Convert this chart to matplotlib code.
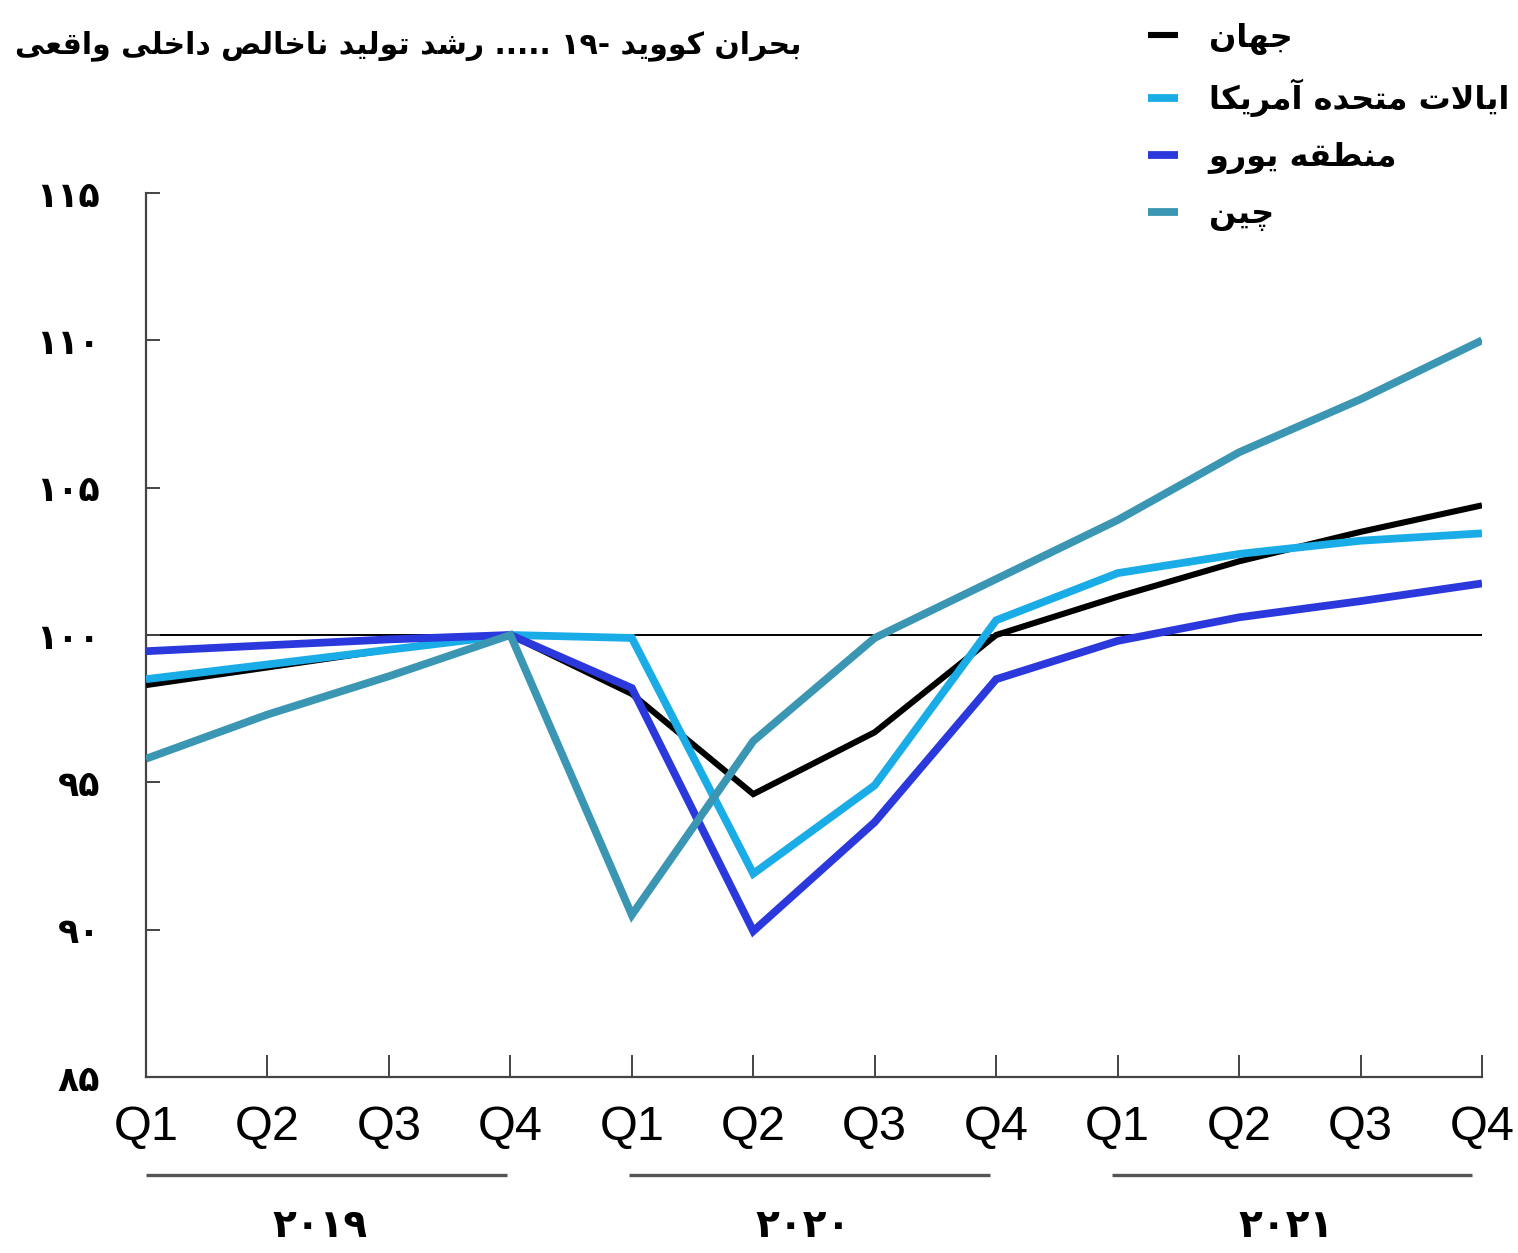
import matplotlib
matplotlib.use('Agg')
import matplotlib.pyplot as plt
from matplotlib import font_manager
from matplotlib.font_manager import FontProperties
from matplotlib.ft2font import FT2Font
from matplotlib.transforms import blended_transform_factory

# ---------------- data ----------------
quarters = ['Q1', 'Q2', 'Q3', 'Q4', 'Q1', 'Q2', 'Q3', 'Q4', 'Q1', 'Q2', 'Q3', 'Q4']
years = ['۲۰۱۹', '۲۰۲۰', '۲۰۲۱']
world = [98.3, 98.9, 99.5, 100.0, 98.0, 94.6, 96.7, 100.0, 101.3, 102.5, 103.5, 104.4]
usa = [98.5, 99.0, 99.5, 100.0, 99.9, 91.9, 94.9, 100.5, 102.1, 102.75, 103.2, 103.45]
euro = [99.45, 99.65, 99.85, 100.0, 98.2, 89.95, 93.65, 98.5, 99.8, 100.6, 101.15, 101.75]
china = [95.8, 97.3, 98.6, 100.0, 90.5, 96.4, 99.9, 101.9, 103.9, 106.2, 108.0, 110.0]
yticks = [85, 90, 95, 100, 105, 110, 115]
names = ['جهان', 'ایالات متحده آمریکا', 'منطقه یورو', 'چین']
colors = ['#000000', '#1aace6', '#2b38dc', '#3a96b2']
title_words = ['بحران', 'کووید', '-۱۹', '.....', 'رشد', 'تولید', 'ناخالص', 'داخلی', 'واقعی']

# ---------------- minimal Arabic/Persian shaping ----------------
FORMS = {
    'ا': ('\uFE8D', '\uFE8E', None, None),
    'آ': ('\uFE81', '\uFE82', None, None),
    'ب': ('\uFE8F', '\uFE90', '\uFE91', '\uFE92'),
    'ت': ('\uFE95', '\uFE96', '\uFE97', '\uFE98'),
    'ج': ('\uFE9D', '\uFE9E', '\uFE9F', '\uFEA0'),
    'ح': ('\uFEA1', '\uFEA2', '\uFEA3', '\uFEA4'),
    'خ': ('\uFEA5', '\uFEA6', '\uFEA7', '\uFEA8'),
    'د': ('\uFEA9', '\uFEAA', None, None),
    'ر': ('\uFEAD', '\uFEAE', None, None),
    'ش': ('\uFEB5', '\uFEB6', '\uFEB7', '\uFEB8'),
    'ص': ('\uFEB9', '\uFEBA', '\uFEBB', '\uFEBC'),
    'ط': ('\uFEC1', '\uFEC2', '\uFEC3', '\uFEC4'),
    'ع': ('\uFEC9', '\uFECA', '\uFECB', '\uFECC'),
    'ق': ('\uFED5', '\uFED6', '\uFED7', '\uFED8'),
    'ل': ('\uFEDD', '\uFEDE', '\uFEDF', '\uFEE0'),
    'م': ('\uFEE1', '\uFEE2', '\uFEE3', '\uFEE4'),
    'ن': ('\uFEE5', '\uFEE6', '\uFEE7', '\uFEE8'),
    'ه': ('\uFEE9', '\uFEEA', '\uFEEB', '\uFEEC'),
    'و': ('\uFEED', '\uFEEE', None, None),
    'ی': ('\uFBFC', '\uFBFD', '\uFBFE', '\uFBFF'),
    'ک': ('\uFB8E', '\uFB8F', '\uFB90', '\uFB91'),
    'چ': ('\uFB7A', '\uFB7B', '\uFB7C', '\uFB7D'),
}
RIGHT_ONLY = set('اآدذرزژو')
LAM_ALEF = {'ا': ('\uFEFB', '\uFEFC'), 'آ': ('\uFEF5', '\uFEF6')}
FALLBACK = {
    '\uFBFC': '\uFEEF', '\uFBFD': '\uFEF0', '\uFBFE': '\uFEF3', '\uFBFF': '\uFEF4',
    '\uFB8E': '\uFED9', '\uFB8F': '\uFEDA', '\uFB90': '\uFEDB', '\uFB91': '\uFEDC',
    '\uFB7A': '\uFE9D', '\uFB7B': '\uFE9E', '\uFB7C': '\uFE9F', '\uFB7D': '\uFEA0',
}
AR_FONT = 'DejaVu Sans'
try:
    _ft = FT2Font(font_manager.findfont(FontProperties(family=AR_FONT, weight='bold')))
    def _has(c):
        return _ft.get_char_index(ord(c)) != 0
except Exception:
    def _has(c):
        return True


def _joins_next(c):
    return c in FORMS and c not in RIGHT_ONLY


def shape_word(w):
    if not any(c in FORMS for c in w):
        return w
    ch = list(w)
    n = len(ch)
    out = []
    i = 0
    while i < n:
        c = ch[i]
        if c not in FORMS:
            out.append(c)
            i += 1
            continue
        prev = ch[i - 1] if i > 0 else None
        cp = prev is not None and _joins_next(prev)
        if c == 'ل' and i + 1 < n and ch[i + 1] in LAM_ALEF:
            lig = LAM_ALEF[ch[i + 1]]
            out.append(lig[1] if cp else lig[0])
            i += 2
            continue
        nxt = ch[i + 1] if i + 1 < n else None
        cn = nxt is not None and _joins_next(c) and nxt in FORMS
        iso, fin, ini, med = FORMS[c]
        if cp and cn:
            g = med
        elif cp:
            g = fin
        elif cn:
            g = ini
        else:
            g = iso
        if not _has(g):
            g = FALLBACK.get(g, c)
        out.append(g)
        i += 1
    return ''.join(out)[::-1]


def rtl(words):
    if isinstance(words, str):
        words = words.split(' ')
    vis = []
    for w in words:
        if w.startswith('-') and w[1:].isdigit():
            w = w[1:] + '-'
        vis.append(shape_word(w))
    return ' '.join(vis[::-1])


FA_DIGITS = str.maketrans('0123456789', '۰۱۲۳۴۵۶۷۸۹')

# ---------------- figure ----------------
W, H = 1518, 1253
fig = plt.figure(figsize=(W / 100, H / 100), dpi=100)
fig.patch.set_facecolor('white')

x0, x1 = 146, 1482
ytop, ybot = 193, 1077
ax = fig.add_axes([x0 / W, 1 - ybot / H, (x1 - x0) / W, (ybot - ytop) / H])

x = list(range(len(quarters)))
ax.axhline(100, color='black', lw=1.4, zorder=1)
widths = [4.4, 5.6, 5.6, 5.6]
series = [world, usa, euro, china]
handles = []
for vals, col, lw, nm in zip(series, colors, widths, names):
    h, = ax.plot(x, vals, color=col, lw=lw, solid_joinstyle='miter',
                 solid_capstyle='butt', zorder=3, label=rtl(nm))
    handles.append(h)

ax.set_xlim(0, len(quarters) - 1)
ax.set_ylim(yticks[0], yticks[-1])

for s in ['top', 'right']:
    ax.spines[s].set_visible(False)
for s in ['left', 'bottom']:
    ax.spines[s].set_color('#444444')
    ax.spines[s].set_linewidth(1.6)

ax.set_yticks(yticks)
ax.set_yticklabels([str(v).translate(FA_DIGITS) for v in yticks],
                   fontfamily=AR_FONT, fontweight='bold', fontsize=25)
ax.set_xticks(x)
ax.set_xticklabels(quarters, fontfamily='Liberation Sans', fontsize=35)
ax.tick_params(axis='y', direction='in', length=10, width=1.4, color='#444444', pad=33)
ax.tick_params(axis='x', direction='in', length=16, width=1.4, color='#444444', pad=20)

# year brackets
tr = blended_transform_factory(ax.transData, ax.transAxes)
for k, yr in enumerate(years):
    a = 4 * k - 0.025 * k
    b = a + 2.97
    ax.plot([a, b], [-0.111, -0.111], transform=tr, color='#555555', lw=2.4,
            clip_on=False, solid_capstyle='butt')
    ax.text((a + b) / 2 - 0.05, -0.168, yr, transform=tr, ha='center', va='center',
            fontfamily=AR_FONT, fontweight='bold', fontsize=28)

# title
fig.text(15 / W, 1 - 46 / H, rtl(title_words), ha='left', va='center',
         fontfamily=AR_FONT, fontweight='bold', fontsize=21.5)

# legend
leg = fig.legend(handles=handles, loc='upper left',
                 bbox_to_anchor=(1148 / W, 1 - 22 / H), bbox_transform=fig.transFigure,
                 frameon=False, prop=FontProperties(family=AR_FONT, weight='bold', size=23),
                 handlelength=0.95, handletextpad=0.95, labelspacing=0.78,
                 borderpad=0, borderaxespad=0)

fig.savefig('out.png', dpi=100, facecolor='white')
